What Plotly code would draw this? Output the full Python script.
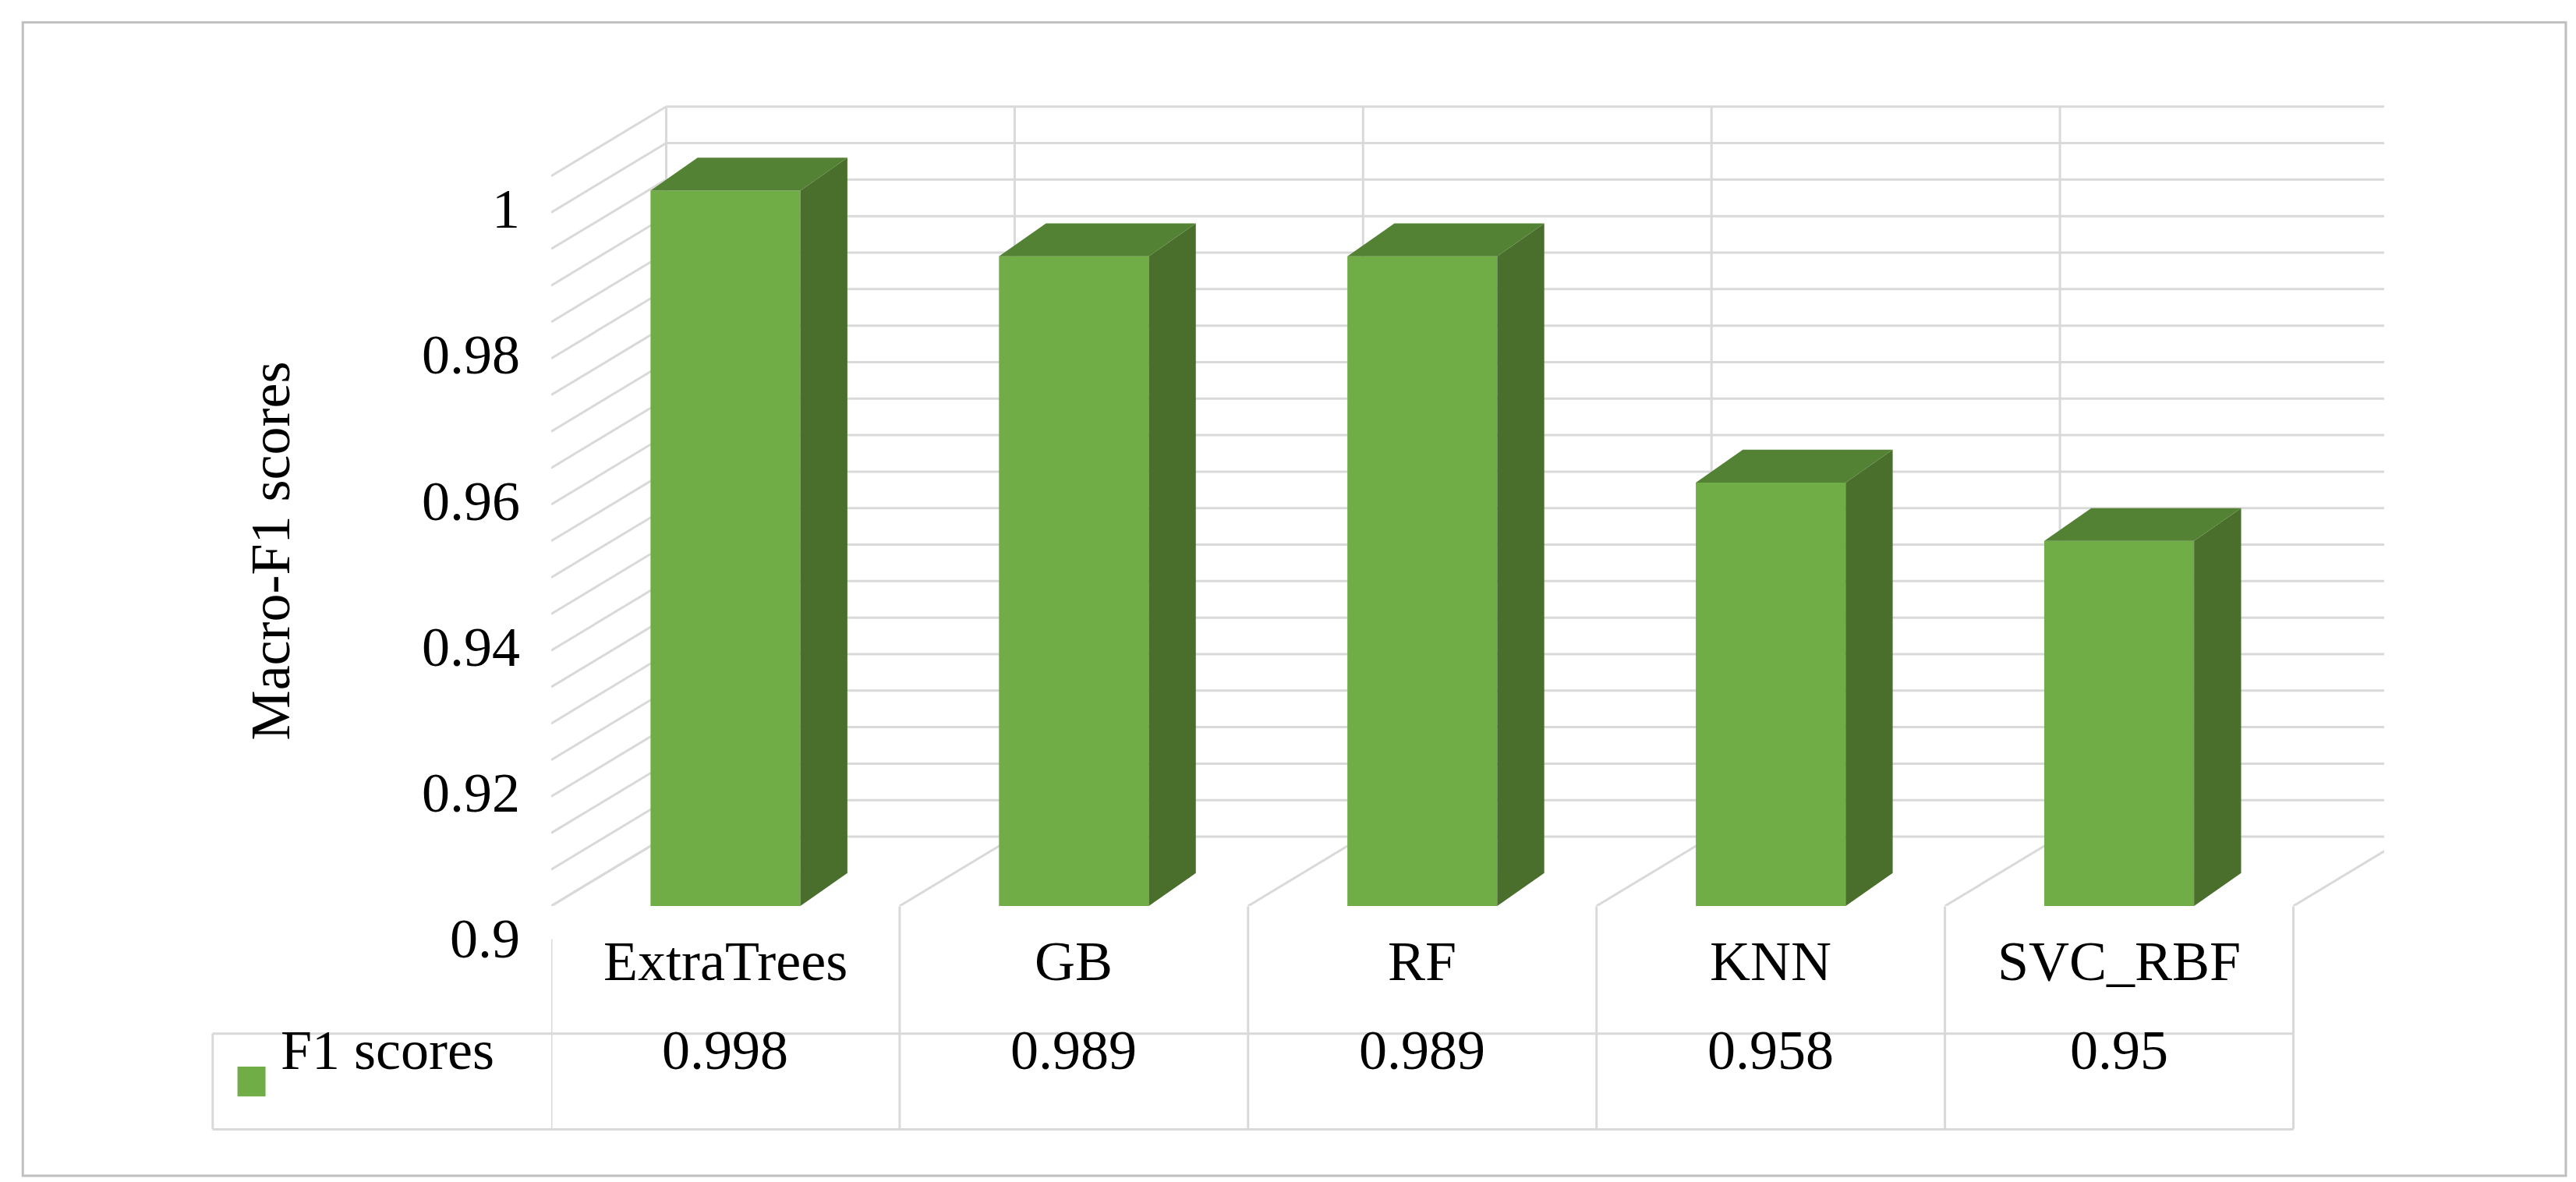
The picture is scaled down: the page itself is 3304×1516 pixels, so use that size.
import plotly.graph_objects as go

categories = ["ExtraTrees", "GB", "RF", "KNN", "SVC_RBF"]
values = [0.998, 0.989, 0.989, 0.958, 0.95]
value_labels = ["0.998", "0.989", "0.989", "0.958", "0.95"]
series_name = "F1 scores"
tick_vals = [0.9, 0.92, 0.94, 0.96, 0.98, 1.0]
tick_text = ["0.9", "0.92", "0.94", "0.96", "0.98", "1"]

W, H = 3304, 1516
S = W / 1560.0
L, R, T, B = 330 * S, (1560 - 1440) * S, 55 * S, (716 - 545) * S
PW, PH = W - L - R, H - T - B
X0, X1 = -0.5, -0.5 + (1440 - 330) / 211.0
Y0, Y1 = 0.9, 0.9 + (545 - 55) / 4420.0

def px(p):
    return (p * S - L) / PW
def py(p):
    return 1 - (p * S - T) / PH

DX, DY = 0.33, 0.0095
BDX, BDY = 0.135, 0.0045
BW = 0.43
GRID = "#D9D9D9"
FRONT, SIDE, TOP = "#70AD47", "#4A6E2C", "#548235"
FONT = "Liberation Serif"
fs = 72

fig = go.Figure()
shapes = []
line = dict(color=GRID, width=3)
v = 0.9
while v <= 1.0001:
    shapes.append(dict(type="line", xref="x", yref="y", x0=-0.5 + DX, x1=4.5 + DX, y0=v + DY, y1=v + DY, line=line, layer="below"))
    shapes.append(dict(type="line", xref="x", yref="y", x0=-0.5, x1=-0.5 + DX, y0=v, y1=v + DY, line=line, layer="below"))
    v += 0.005
for i in range(6):
    b = -0.5 + i
    shapes.append(dict(type="line", xref="x", yref="y", x0=b + DX, x1=b + DX, y0=0.9 + DY, y1=1.0 + DY, line=line, layer="below"))
    shapes.append(dict(type="line", xref="x", yref="y", x0=b, x1=b + DX, y0=0.9, y1=0.9 + DY, line=line, layer="below"))

for i, val in enumerate(values):
    xr = i + BW / 2
    xl = i - BW / 2
    fig.add_trace(go.Scatter(x=[xr, xr + BDX, xr + BDX, xr, xr], y=[0.9, 0.9 + BDY, val + BDY, val, 0.9],
                             fill="toself", fillcolor=SIDE, line=dict(width=0), mode="lines",
                             showlegend=False, hoverinfo="skip"))
    fig.add_trace(go.Scatter(x=[xl, xr, xr + BDX, xl + BDX, xl], y=[val, val, val + BDY, val + BDY, val],
                             fill="toself", fillcolor=TOP, line=dict(width=0), mode="lines",
                             showlegend=False, hoverinfo="skip"))
fig.add_trace(go.Bar(x=list(range(5)), y=[v - 0.9 for v in values], base=0.9, width=BW,
                     marker=dict(color=FRONT, line=dict(width=0)), showlegend=False))

tline = dict(color=GRID, width=3)
for i in range(6):
    b = -0.5 + i
    shapes.append(dict(type="line", xref="x", yref="paper", x0=b, x1=b, y0=py(545 if i else 565), y1=py(680), line=tline))
for yy in (622, 680):
    shapes.append(dict(type="line", xref="paper", yref="paper", x0=px(125), x1=px(1385), y0=py(yy), y1=py(yy), line=tline))
shapes.append(dict(type="line", xref="paper", yref="paper", x0=px(125), x1=px(125), y0=py(622), y1=py(680), line=tline))
shapes.append(dict(type="rect", xref="paper", yref="paper", x0=px(140), x1=px(157), y0=py(642), y1=py(660),
                   fillcolor=FRONT, line=dict(width=0)))
shapes.append(dict(type="rect", xref="paper", yref="paper", x0=px(10), x1=px(1550), y0=py(10), y1=py(708),
                   line=dict(color="#BFBFBF", width=3)))

ann = []
for tv, tt in zip(tick_vals, tick_text):
    ann.append(dict(x=px(312), y=tv, xref="paper", yref="y", text=tt, showarrow=False, xanchor="right",
                    yshift=-20 * S, font=dict(size=fs)))
for i, (c, lab) in enumerate(zip(categories, value_labels)):
    ann.append(dict(x=i, y=py(598), xref="x", yref="paper", text=c, showarrow=False, font=dict(size=fs)))
    ann.append(dict(x=i, y=py(652), xref="x", yref="paper", text=lab, showarrow=False, font=dict(size=fs)))
ann.append(dict(x=px(165), y=py(652), xref="paper", yref="paper", text=series_name, showarrow=False,
                xanchor="left", font=dict(size=fs)))
ann.append(dict(x=px(140), y=py(330), xref="paper", yref="paper", text="Macro-F1 scores", showarrow=False,
                textangle=-90, font=dict(size=fs)))

fig.update_layout(
    width=W, height=H, margin=dict(l=L, r=R, t=T, b=B),
    paper_bgcolor="white", plot_bgcolor="white",
    font=dict(family=FONT, size=fs, color="#000000"),
    shapes=shapes, annotations=ann,
    xaxis=dict(range=[X0, X1], showgrid=False, zeroline=False, showticklabels=False),
    yaxis=dict(range=[Y0, Y1], showgrid=False, zeroline=False, showticklabels=False, ticks=""),
)
fig.write_html("out.html")
